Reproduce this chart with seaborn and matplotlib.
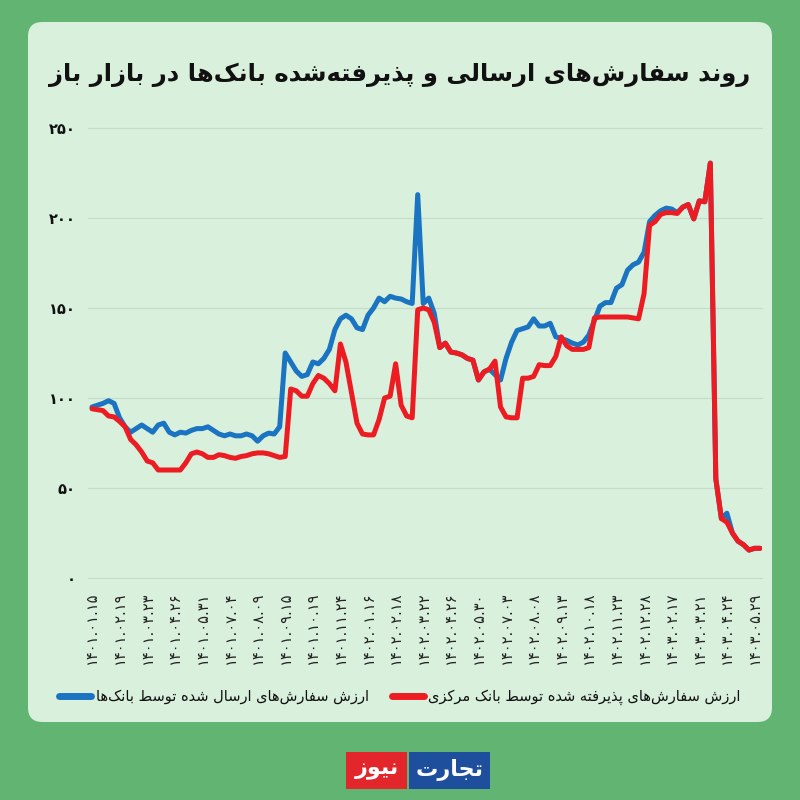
import numpy as np
import pandas as pd
import matplotlib
matplotlib.use("Agg")
import matplotlib.pyplot as plt
from matplotlib.patches import FancyBboxPatch, Rectangle
from matplotlib.lines import Line2D
import seaborn as sns

# ---------------- data ----------------
tick_labels = ['۱۴۰۱.۰۱.۱۵', '۱۴۰۱.۰۲.۱۹', '۱۴۰۱.۰۳.۲۳', '۱۴۰۱.۰۴.۲۶', '۱۴۰۱.۰۵.۳۱',
               '۱۴۰۱.۰۷.۰۴', '۱۴۰۱.۰۸.۰۹', '۱۴۰۱.۰۹.۱۵', '۱۴۰۱.۱۰.۱۹', '۱۴۰۱.۱۱.۲۴',
               '۱۴۰۲.۰۱.۱۶', '۱۴۰۲.۰۲.۱۸', '۱۴۰۲.۰۳.۲۲', '۱۴۰۲.۰۴.۲۶', '۱۴۰۲.۰۵.۳۰',
               '۱۴۰۲.۰۷.۰۳', '۱۴۰۲.۰۸.۰۸', '۱۴۰۲.۰۹.۱۳', '۱۴۰۲.۱۰.۱۸', '۱۴۰۲.۱۱.۲۳',
               '۱۴۰۲.۱۲.۲۸', '۱۴۰۳.۰۲.۱۷', '۱۴۰۳.۰۳.۲۱', '۱۴۰۳.۰۴.۲۴', '۱۴۰۳.۰۵.۲۹']

sent_by_banks = [95, 96, 97, 98.5, 97, 89, 84, 81, 83, 85,
                 83, 81, 85, 86, 81, 79.5, 81, 80.5, 82, 83,
                 83, 84, 82, 80, 79, 80, 79, 79, 80, 79,
                 76, 79, 80.5, 80, 84, 125, 120, 115, 112, 113,
                 120, 119, 122, 127, 138, 144, 146, 144, 139, 138,
                 146, 150, 155.5, 153.5, 156.5, 155.5, 155, 153.5, 152.5, 213,
                 152.5, 155.5, 147, 128, 130.5, 125.5, 125, 124, 122, 121,
                 110, 114.5, 116, 113, 110, 122, 131, 137.5, 138.5, 139.5,
                 144, 140, 140, 141.5, 134, 133, 132, 130.5, 129.5, 131,
                 135, 143, 151, 153, 153, 161, 163, 171, 174, 175.5,
                 181, 198, 201.5, 204, 205.5, 205, 203, 206, 207.5, 199.5,
                 209.5, 209, 230.5, 55, 33, 36, 25, 20.5, 18.5, 15.5,
                 16.5, 16.5]

accepted_by_cb = [94, 93.5, 93, 90, 89.5, 87, 84, 77, 74, 70,
                  65, 64, 60, 60, 60, 60, 60, 64, 69, 70,
                  69, 67, 67, 68.5, 68, 67, 66.5, 67.5, 68, 69,
                  69.5, 69.5, 69, 68, 67, 67.5, 105, 104, 101, 101,
                  108, 112.5, 111, 108, 104, 130, 120, 103, 86, 80,
                  79.5, 79.5, 88, 100, 101, 119, 96, 90, 89, 149,
                  150, 149, 142, 128, 130.5, 125.5, 125, 124, 122, 121,
                  110, 114.5, 116, 120.5, 95, 89.5, 89, 89, 111, 111,
                  112, 118.5, 118, 118, 123, 134, 129, 127, 127, 127,
                  128, 144.5, 145, 145, 145, 145, 145, 145, 144.5, 144,
                  158, 196, 198, 202, 203, 203, 202.5, 206, 207.5, 199.5,
                  209.5, 209, 230.5, 55, 33, 31, 25, 20.5, 18.5, 15.5,
                  16.5, 16.5]

y_ticks = [0, 50, 100, 150, 200, 250]
y_tick_labels = ['۰', '۵۰', '۱۰۰', '۱۵۰', '۲۰۰', '۲۵۰']

title_text = 'روند سفارش‌های ارسالی و پذیرفته‌شده بانک‌ها در بازار باز'
label_blue = 'ارزش سفارش‌های ارسال شده توسط بانک‌ها'
label_red = 'ارزش سفارش‌های پذیرفته شده توسط بانک مرکزی'
logo_left = 'نیوز'
logo_right = 'تجارت'

# ---------------- simple Persian shaping ----------------
FORMS = {
    '\u0627': ('\uFE8D', '\uFE8E', None, None),
    '\u0622': ('\uFE81', '\uFE82', None, None),
    '\u0628': ('\uFE8F', '\uFE90', '\uFE91', '\uFE92'),
    '\u067E': ('\uFB56', '\uFB57', '\uFB58', '\uFB59'),
    '\u062A': ('\uFE95', '\uFE96', '\uFE97', '\uFE98'),
    '\u062B': ('\uFE99', '\uFE9A', '\uFE9B', '\uFE9C'),
    '\u062C': ('\uFE9D', '\uFE9E', '\uFE9F', '\uFEA0'),
    '\u0686': ('\uFB7A', '\uFB7B', '\uFB7C', '\uFB7D'),
    '\u062D': ('\uFEA1', '\uFEA2', '\uFEA3', '\uFEA4'),
    '\u062E': ('\uFEA5', '\uFEA6', '\uFEA7', '\uFEA8'),
    '\u062F': ('\uFEA9', '\uFEAA', None, None),
    '\u0630': ('\uFEAB', '\uFEAC', None, None),
    '\u0631': ('\uFEAD', '\uFEAE', None, None),
    '\u0632': ('\uFEAF', '\uFEB0', None, None),
    '\u0698': ('\uFB8A', '\uFB8B', None, None),
    '\u0633': ('\uFEB1', '\uFEB2', '\uFEB3', '\uFEB4'),
    '\u0634': ('\uFEB5', '\uFEB6', '\uFEB7', '\uFEB8'),
    '\u0635': ('\uFEB9', '\uFEBA', '\uFEBB', '\uFEBC'),
    '\u0636': ('\uFEBD', '\uFEBE', '\uFEBF', '\uFEC0'),
    '\u0637': ('\uFEC1', '\uFEC2', '\uFEC3', '\uFEC4'),
    '\u0638': ('\uFEC5', '\uFEC6', '\uFEC7', '\uFEC8'),
    '\u0639': ('\uFEC9', '\uFECA', '\uFECB', '\uFECC'),
    '\u063A': ('\uFECD', '\uFECE', '\uFECF', '\uFED0'),
    '\u0641': ('\uFED1', '\uFED2', '\uFED3', '\uFED4'),
    '\u0642': ('\uFED5', '\uFED6', '\uFED7', '\uFED8'),
    '\u06A9': ('\uFB8E', '\uFB8F', '\uFB90', '\uFB91'),
    '\u06AF': ('\uFB92', '\uFB93', '\uFB94', '\uFB95'),
    '\u0644': ('\uFEDD', '\uFEDE', '\uFEDF', '\uFEE0'),
    '\u0645': ('\uFEE1', '\uFEE2', '\uFEE3', '\uFEE4'),
    '\u0646': ('\uFEE5', '\uFEE6', '\uFEE7', '\uFEE8'),
    '\u0647': ('\uFEE9', '\uFEEA', '\uFEEB', '\uFEEC'),
    '\u0648': ('\uFEED', '\uFEEE', None, None),
    '\u06CC': ('\uFBFC', '\uFBFD', '\uFBFE', '\uFBFF'),
}


def shape(text):
    chars = list(text)
    out = []
    for i, c in enumerate(chars):
        if c not in FORMS:
            out.append(c)
            continue
        prev = chars[i - 1] if i > 0 else None
        nxt = chars[i + 1] if i + 1 < len(chars) else None
        cp = prev in FORMS and FORMS[prev][2] is not None
        cn = (nxt in FORMS) and FORMS[c][2] is not None
        iso, fin, ini, med = FORMS[c]
        if cp and cn:
            out.append(med)
        elif cp:
            out.append(fin)
        elif cn:
            out.append(ini)
        else:
            out.append(iso)
    s = ''.join(ch for ch in out if ch != '\u200c')
    return s[::-1]


# ---------------- style ----------------
sns.set_theme(style='white')
plt.rcParams['font.family'] = ['DejaVu Sans']

BG_OUT = '#62b472'
PANEL = '#d9f0dc'
BLUE = '#1a74c2'
RED = '#ec1c22'

n = len(sent_by_banks)
df = pd.DataFrame({
    'idx': list(range(n)) * 2,
    'value': sent_by_banks + accepted_by_cb,
    'series': ['blue'] * n + ['red'] * n,
})

fig = plt.figure(figsize=(8, 8), dpi=100, facecolor=BG_OUT)

panel = FancyBboxPatch((28 / 800, 78 / 800), 744 / 800, 700 / 800,
                       boxstyle='round,pad=0,rounding_size=0.018',
                       transform=fig.transFigure, facecolor=PANEL,
                       edgecolor='none', zorder=-5)
fig.patches.append(panel)

ax = fig.add_axes([88 / 800, (800 - 578) / 800, (762 - 88) / 800, 450 / 800])
ax.set_zorder(2)
ax.patch.set_alpha(0)

sns.lineplot(data=df, x='idx', y='value', hue='series',
             palette={'blue': BLUE, 'red': RED}, hue_order=['blue', 'red'],
             linewidth=3.6, legend=False, ax=ax, solid_joinstyle='round',
             solid_capstyle='round')

ax.set_xlim(-0.72, 121.36)
ax.set_ylim(0, 250)
ax.set_yticks(y_ticks)
ax.set_yticklabels(y_tick_labels, fontsize=10.5, fontweight='bold', color='#111111')
ax.set_xticks(list(range(0, 5 * len(tick_labels), 5)))
ax.set_xticklabels(tick_labels, rotation=90, fontsize=10.5, color='#222222')
ax.tick_params(axis='both', length=0)
ax.tick_params(axis='y', pad=9)
ax.tick_params(axis='x', pad=10)
ax.set_xlabel('')
ax.set_ylabel('')
for s in ax.spines.values():
    s.set_visible(False)
ax.yaxis.grid(True, color='#c6dbc9', linewidth=0.9)
ax.xaxis.grid(False)
ax.set_axisbelow(True)
for ln in ax.get_ygridlines():
    ln.set_clip_on(False)

fig.text(0.5, 1 - 75 / 800, shape(title_text), ha='center', va='center',
         fontsize=17.5, fontweight='bold', color='#111111')

handles = [Line2D([], [], color=BLUE, lw=5, solid_capstyle='round'),
           Line2D([], [], color=RED, lw=5, solid_capstyle='round')]
leg = fig.legend(handles, [shape(label_blue), shape(label_red)],
                 loc='center', bbox_to_anchor=(0.5, 1 - 697 / 800), ncol=2,
                 frameon=False, fontsize=10.5, handlelength=2.2,
                 handletextpad=0.3, columnspacing=1.6)
for t in leg.get_texts():
    t.set_color('#111111')

# logo
fig.patches.append(Rectangle((346 / 800, 11 / 800), 61 / 800, 37 / 800,
                             transform=fig.transFigure, facecolor='#e3262b',
                             edgecolor='none'))
fig.patches.append(Rectangle((409 / 800, 11 / 800), 81 / 800, 37 / 800,
                             transform=fig.transFigure, facecolor='#1d4f9c',
                             edgecolor='none'))
fig.text(376.5 / 800, 30 / 800, shape(logo_left), ha='center', va='center',
         fontsize=16, fontweight='bold', color='white')
fig.text(449.5 / 800, 30 / 800, shape(logo_right), ha='center', va='center',
         fontsize=16, fontweight='bold', color='white')

fig.savefig('out.png', dpi=100, facecolor=BG_OUT)
